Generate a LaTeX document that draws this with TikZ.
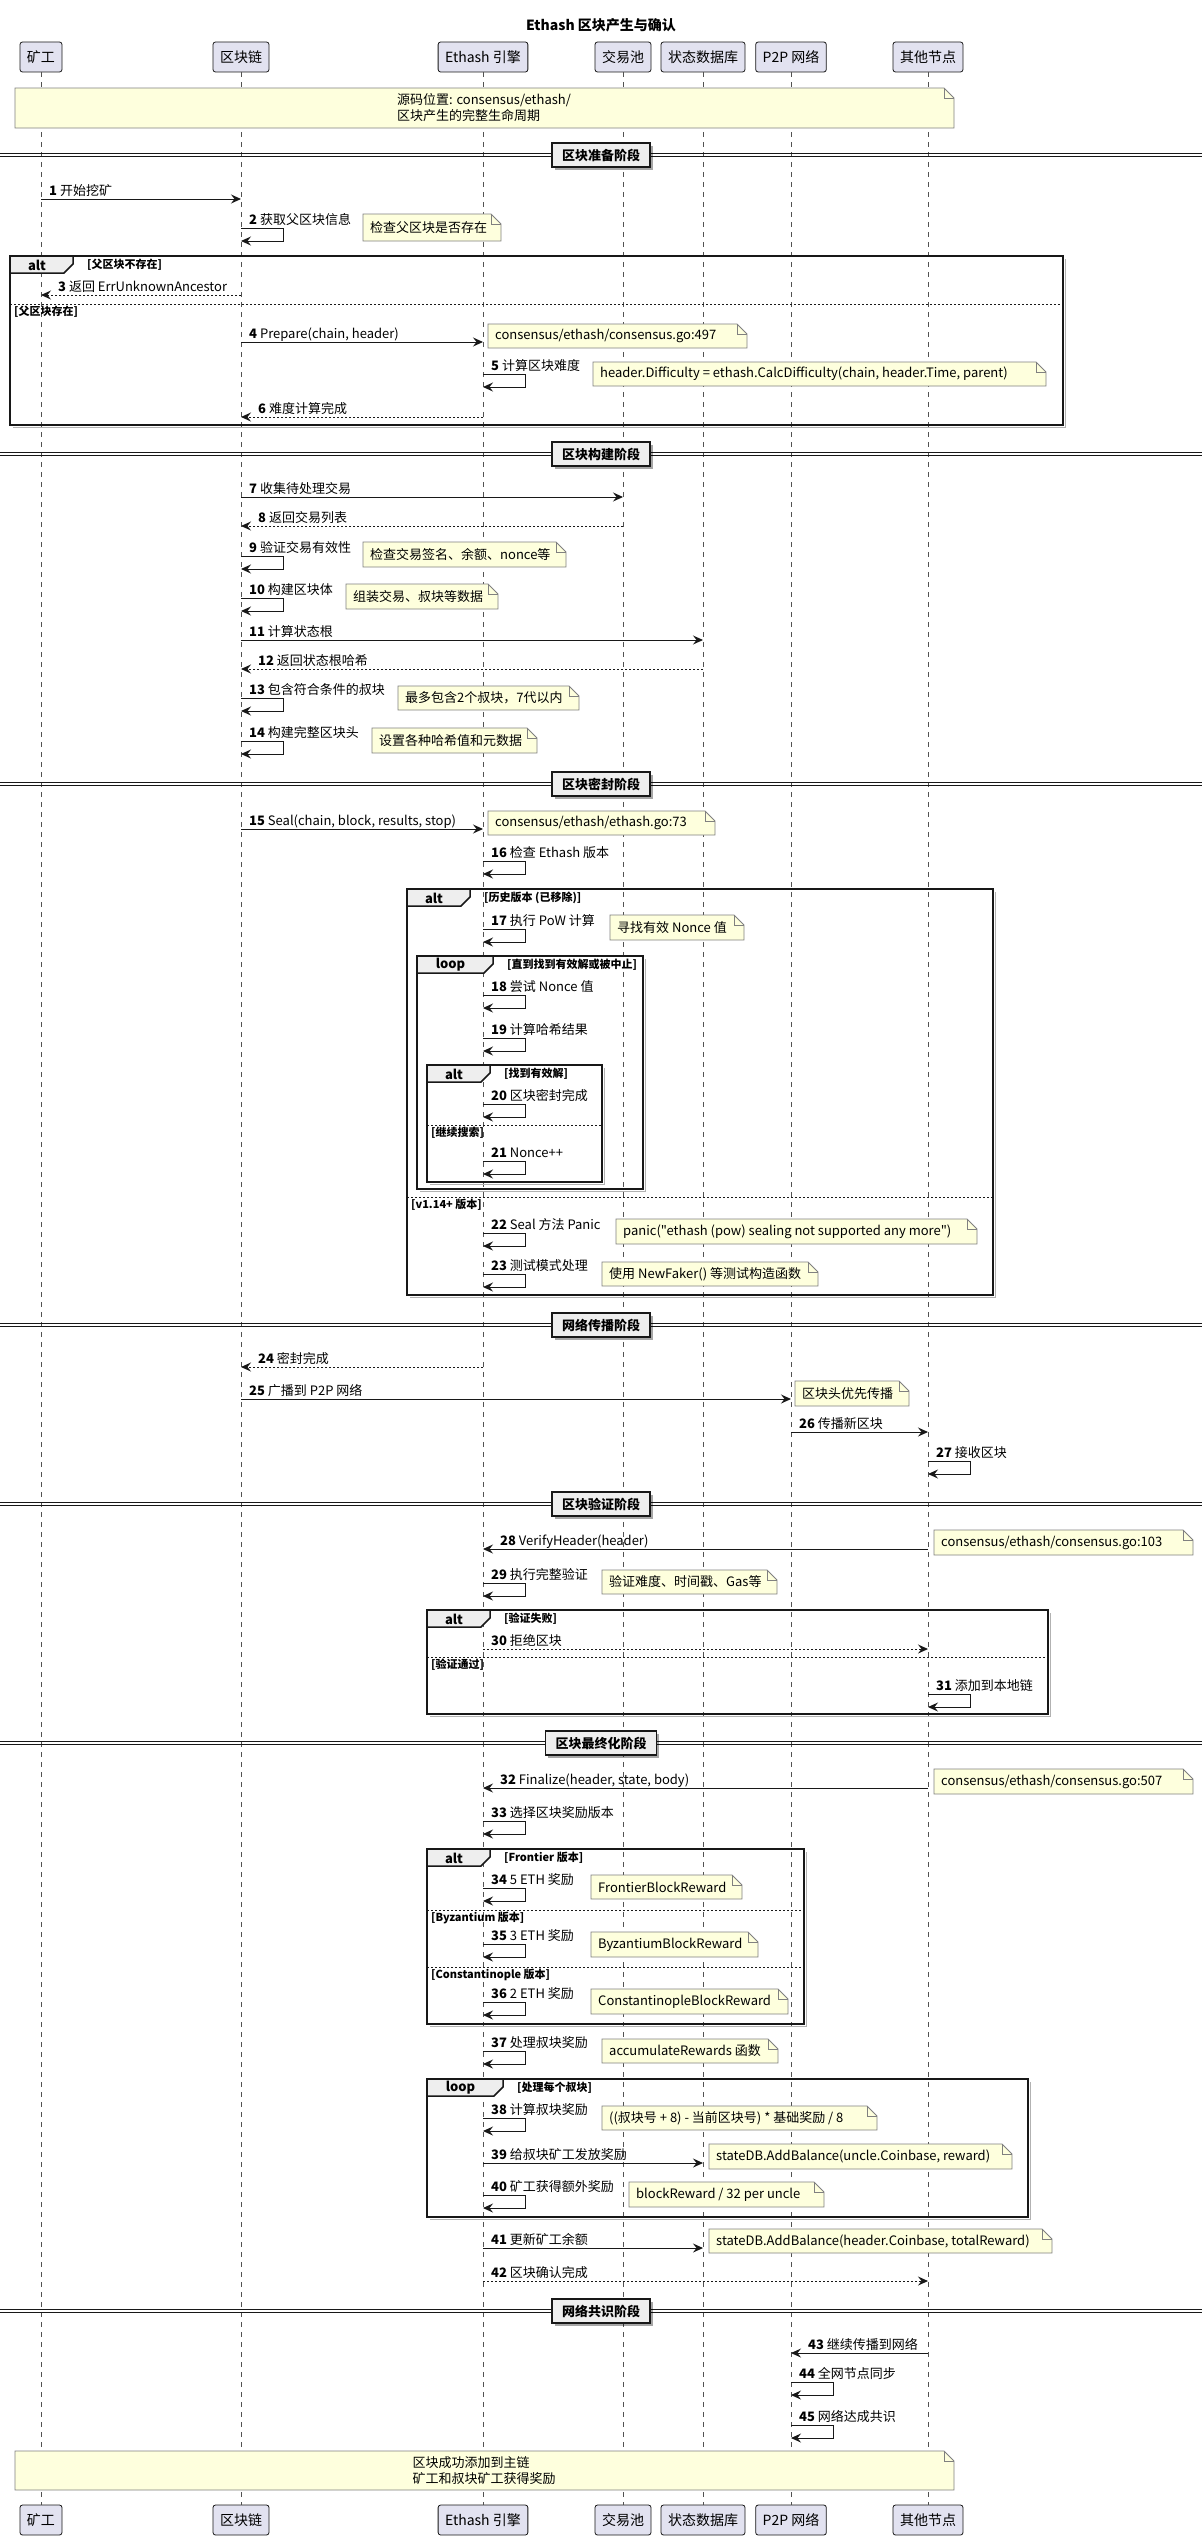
\documentclass[tikz,border=0pt]{standalone}
\usepackage{fontspec}
\setmainfont{Noto Sans CJK SC}
\newfontfamily\plainfont{Noto Sans CJK SC}
\usetikzlibrary{arrows.meta,shadows}

\definecolor{partfill}{HTML}{E2E2F0}
\definecolor{notefill}{HTML}{FEFFDD}
\definecolor{tabfill}{HTML}{EEEEEE}
\definecolor{ink}{HTML}{181818}

\tikzset{
  part/.style={draw=ink, line width=0.8pt, fill=partfill, rounded corners=2.5pt, minimum height=30pt, inner xsep=7pt, font=\fontsize{14}{16}\selectfont},
  lifeline/.style={draw=ink!75, line width=0.7pt, dash pattern=on 5pt off 5pt},
  arr/.style={draw=ink, line width=1pt, -{Stealth[length=10pt,width=9pt,inset=3.5pt]}},
  ret/.style={dash pattern=on 2pt off 2pt},
  msgtxt/.style={anchor=base west, inner sep=0pt, font=\fontsize{13}{15}\selectfont},
  notebox/.style={draw=black!50, line width=0.8pt, fill=notefill},
  notetxt/.style={anchor=west, inner sep=0pt, font=\fontsize{13}{16}\selectfont},
  frameline/.style={draw=ink, line width=1.5pt},
  tabbox/.style={draw=ink, line width=1.5pt, fill=tabfill},
  tabtxt/.style={inner sep=0pt, font=\bfseries\fontsize{13}{15}\selectfont},
  grdtxt/.style={anchor=west, inner sep=0pt, font=\bfseries\fontsize{11}{13}\selectfont},
  sepline/.style={draw=ink, line width=0.8pt, dash pattern=on 2pt off 2pt},
  phaseline/.style={draw=ink, line width=1.2pt},
  phasebox/.style={draw=ink, line width=1.5pt, fill=tabfill, minimum height=24pt, inner xsep=10pt, font=\bfseries\fontsize{13}{15}\selectfont, drop shadow={shadow xshift=2.5pt, shadow yshift=-2.5pt, opacity=0.35, fill=black}},
}

% lifeline positions
\def\xminer{41}
\def\xchain{241}
\def\xeth{483}
\def\xpool{623}
\def\xstate{703}
\def\xnet{791}
\def\xpeer{928}

\newcount\nodecnt

\def\msg[#1](#2,#3)(#4)#5#6{%
  \draw[arr,#1] (#2,#3) -- (#4,#3);
  \pgfmathsetmacro\msgx{(#2<#4) ? #2+8 : #4+17}%
  \global\advance\nodecnt by 1
  \node[msgtxt] (m\the\nodecnt) at (\msgx,#3-4) {\textbf{#5} #6};}
\def\selfmsg(#1,#2)#3#4{%
  \draw[arr] (#1,#2) -- (#1+42,#2) -- (#1+42,#2+13) -- (#1,#2+13);
  \global\advance\nodecnt by 1
  \node[msgtxt] (m\the\nodecnt) at (#1+8,#2-4) {\textbf{#3} #4};}
\def\notecard(#1,#2)(#3,#4)#5{%
  \draw[notebox] (#1,#2) -- (#3-10,#2) -- (#3,#2+10) -- (#3,#4) -- (#1,#4) -- cycle;
  \draw[notebox,fill=none] (#3-10,#2) -- (#3-10,#2+10) -- (#3,#2+10);
  \global\advance\nodecnt by 1
  \node[notetxt] (nt\the\nodecnt) at (#1+7,{(#2+#4)/2}) {#5};}
\def\fragbox(#1,#2)(#3,#4)#5#6#7{%
  \draw[black!30,line width=1.5pt] (#1+3,#4+2.5) -- (#3+2.5,#4+2.5) -- (#3+2.5,#2+3);
  \draw[frameline] (#1,#2) rectangle (#3,#4);
  \draw[tabbox] (#1,#2) -- (#6,#2) -- (#6,#2+8) -- (#6-9,#2+17) -- (#1,#2+17) -- cycle;
  \global\advance\nodecnt by 1
  \node[tabtxt] (fk\the\nodecnt) at ({(#1+#6-9)/2},#2+9) {#5};
  \node[grdtxt] (fg\the\nodecnt) at (#6+14,#2+9) {#7};}
\def\altsep(#1,#2,#3)#4{%
  \draw[sepline] (#1,#2) -- (#3,#2);
  \global\advance\nodecnt by 1
  \node[grdtxt] (g\the\nodecnt) at (#1+4,#2+8) {#4};}
\def\phase(#1)#2{%
  \draw[phaseline] (0,#1-1.8) -- (1202,#1-1.8);
  \draw[phaseline] (0,#1+1.8) -- (1202,#1+1.8);
  \global\advance\nodecnt by 1
  \node[phasebox] (ph\the\nodecnt) at (601,#1) {#2};}

\begin{document}
\begin{tikzpicture}[x=1pt,y=-1pt]
	%%%%% START %%%%%
	\useasboundingbox (0,0) rectangle (1202,2540);
	
	\node[font=\bfseries\fontsize{14}{16}\selectfont] (title) at (601,25) {Ethash 区块产生与确认};
	
	% participants, top and bottom
	\node[part] (miner) at (\xminer,57) {矿工};
	\node[part] (chain) at (\xchain,57) {区块链};
	\node[part] (eth) at (\xeth,57) {Ethash 引擎};
	\node[part] (pool) at (\xpool,57) {交易池};
	\node[part] (state) at (\xstate,57) {状态数据库};
	\node[part] (net) at (\xnet,57) {P2P 网络};
	\node[part] (peer) at (\xpeer,57) {其他节点};
	\node[part] (minerB) at (\xminer,2520) {矿工};
	\node[part] (chainB) at (\xchain,2520) {区块链};
	\node[part] (ethB) at (\xeth,2520) {Ethash 引擎};
	\node[part] (poolB) at (\xpool,2520) {交易池};
	\node[part] (stateB) at (\xstate,2520) {状态数据库};
	\node[part] (netB) at (\xnet,2520) {P2P 网络};
	\node[part] (peerB) at (\xpeer,2520) {其他节点};
	\foreach \p in {miner,chain,eth,pool,state,net,peer}
		\draw[lifeline] (\p.south) -- (\p B.north);
	
	% top note
	\draw[notebox] (15,88) -- (944,88) -- (954,98) -- (954,128) -- (15,128) -- cycle;
	\draw[notebox,fill=none] (944,88) -- (944,98) -- (954,98);
	\node[notetxt,anchor=center,align=left] (srcnote) at (484,108) {源码位置: consensus/ethash/\\区块产生的完整生命周期};
	
	%%%%% 区块准备阶段 %%%%%
	\phase(155){区块准备阶段}
	\msg[](\xminer,199)(\xchain){1}{开始挖矿}
	\selfmsg(\xchain,228){2}{获取父区块信息}
	\notecard(363,214)(501,241){检查父区块是否存在}
	\fragbox(10,256)(1063,425){alt}{73}{[父区块不存在]}
	\msg[ret](\xchain,295)(\xminer){3}{返回 ErrUnknownAncestor}
	\altsep(10,304,1063){[父区块存在]}
	\msg[](\xchain,342)(\xeth){4}{Prepare(chain, header)}
	\notecard(488,324)(747,348){consensus/ethash/consensus.go:497}
	\selfmsg(\xeth,374){5}{计算区块难度}
	\notecard(593,362)(1046,386){header.Difficulty = ethash.CalcDifficulty(chain, header.Time, parent)}
	\msg[ret](\xeth,417)(\xchain){6}{难度计算完成}
	
	%%%%% 区块构建阶段 %%%%%
	\phase(454){区块构建阶段}
	\msg[](\xchain,497)(\xpool){7}{收集待处理交易}
	\msg[ret](\xpool,526)(\xchain){8}{返回交易列表}
	\selfmsg(\xchain,556){9}{验证交易有效性}
	\notecard(363,542)(566,567){检查交易签名、余额、nonce等}
	\selfmsg(\xchain,598){10}{构建区块体}
	\notecard(346,584)(498,609){组装交易、叔块等数据}
	\msg[](\xchain,640)(\xstate){11}{计算状态根}
	\msg[ret](\xstate,669)(\xchain){12}{返回状态根哈希}
	\selfmsg(\xchain,698){13}{包含符合条件的叔块}
	\notecard(398,686)(579,710){最多包含2个叔块，7代以内}
	\selfmsg(\xchain,741){14}{构建完整区块头}
	\notecard(372,728)(537,753){设置各种哈希值和元数据}
	
	%%%%% 区块密封阶段 %%%%%
	\phase(784){区块密封阶段}
	\msg[](\xchain,829)(\xeth){15}{Seal(chain, block, results, stop)}
	\notecard(488,811)(715,835){consensus/ethash/ethash.go:73}
	\selfmsg(\xeth,861){16}{检查 Ethash 版本}
	\fragbox(407,889)(993,1295){alt}{470}{[历史版本 (已移除)]}
	\selfmsg(\xeth,929){17}{执行 PoW 计算}
	\notecard(610,915)(744,940){寻找有效 Nonce 值}
	\fragbox(417,956)(643,1189){loop}{493}{[直到找到有效解或被中止]}
	\selfmsg(\xeth,995){18}{尝试 Nonce 值}
	\selfmsg(\xeth,1038){19}{计算哈希结果}
	\fragbox(427,1065)(602,1182){alt}{490}{[找到有效解]}
	\selfmsg(\xeth,1104){20}{区块密封完成}
	\altsep(427,1125,602){[继续搜索]}
	\selfmsg(\xeth,1161){21}{Nonce++}
	\altsep(407,1197,993){[v1.14+ 版本]}
	\selfmsg(\xeth,1233){22}{Seal 方法 Panic}
	\notecard(616,1219)(977,1244){{\plainfont panic("ethash (pow) sealing not supported any more")}}
	\selfmsg(\xeth,1274){23}{测试模式处理}
	\notecard(602,1262)(818,1286){使用 NewFaker() 等测试构造函数}
	
	%%%%% 网络传播阶段 %%%%%
	\phase(1325){网络传播阶段}
	\msg[ret](\xeth,1367)(\xchain){24}{密封完成}
	\msg[](\xchain,1399)(\xnet){25}{广播到 P2P 网络}
	\notecard(795,1381)(909,1406){区块头优先传播}
	\msg[](\xnet,1432)(\xpeer){26}{传播新区块}
	\selfmsg(\xpeer,1461){27}{接收区块}
	
	%%%%% 区块验证阶段 %%%%%
	\phase(1504){区块验证阶段}
	\msg[](\xpeer,1549)(\xeth){28}{VerifyHeader(header)}
	\notecard(934,1530)(1193,1555){consensus/ethash/consensus.go:103}
	\selfmsg(\xeth,1583){29}{执行完整验证}
	\notecard(602,1570)(777,1594){验证难度、时间戳、Gas等}
	\fragbox(427,1610)(1048,1714){alt}{490}{[验证失败]}
	\msg[ret](\xeth,1649)(\xpeer){30}{拒绝区块}
	\altsep(427,1657,1048){[验证通过]}
	\selfmsg(\xpeer,1694){31}{添加到本地链}
	
	%%%%% 区块最终化阶段 %%%%%
	\phase(1743){区块最终化阶段}
	\msg[](\xpeer,1788)(\xeth){32}{Finalize(header, state, body)}
	\notecard(934,1769)(1193,1794){consensus/ethash/consensus.go:507}
	\selfmsg(\xeth,1821){33}{选择区块奖励版本}
	\fragbox(427,1849)(804,2024){alt}{490}{[Frontier 版本]}
	\selfmsg(\xeth,1888){34}{5 ETH 奖励}
	\notecard(591,1875)(742,1899){FrontierBlockReward}
	\altsep(427,1910,804){[Byzantium 版本]}
	\selfmsg(\xeth,1944){35}{3 ETH 奖励}
	\notecard(591,1932)(758,1957){ByzantiumBlockReward}
	\altsep(427,1967,804){[Constantinople 版本]}
	\selfmsg(\xeth,2002){36}{2 ETH 奖励}
	\notecard(591,1989)(788,2014){ConstantinopleBlockReward}
	\selfmsg(\xeth,2051){37}{处理叔块奖励}
	\notecard(602,2039)(778,2063){accumulateRewards 函数}
	\fragbox(427,2079)(1028,2217){loop}{503}{[处理每个叔块]}
	\selfmsg(\xeth,2118){38}{计算叔块奖励}
	\notecard(602,2106)(877,2130){((叔块号 + 8) - 当前区块号) * 基础奖励 / 8}
	\msg[](\xeth,2163)(\xstate){39}{给叔块矿工发放奖励}
	\notecard(709,2144)(1012,2169){stateDB.AddBalance(uncle.Coinbase, reward)}
	\selfmsg(\xeth,2195){40}{矿工获得额外奖励}
	\notecard(629,2182)(824,2207){blockReward / 32 per uncle}
	\msg[](\xeth,2248)(\xstate){41}{更新矿工余额}
	\notecard(709,2229)(1052,2253){stateDB.AddBalance(header.Coinbase, totalReward)}
	\msg[ret](\xeth,2281)(\xpeer){42}{区块确认完成}
	
	%%%%% 网络共识阶段 %%%%%
	\phase(2311){网络共识阶段}
	\msg[](\xpeer,2353)(\xnet){43}{继续传播到网络}
	\selfmsg(\xnet,2382){44}{全网节点同步}
	\selfmsg(\xnet,2425){45}{网络达成共识}
	
	% bottom note
	\draw[notebox] (15,2451) -- (944,2451) -- (954,2461) -- (954,2490) -- (15,2490) -- cycle;
	\draw[notebox,fill=none] (944,2451) -- (944,2461) -- (954,2461);
	\node[notetxt,anchor=center,align=left] (endnote) at (484,2471) {区块成功添加到主链\\矿工和叔块矿工获得奖励};
	
	%%%%% END %%%%%
\end{tikzpicture}
\end{document}
